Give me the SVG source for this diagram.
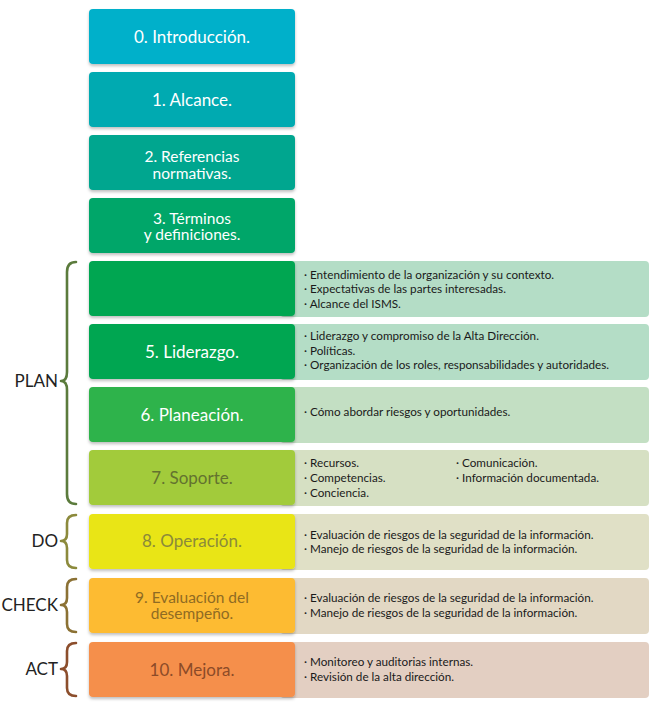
<svg xmlns="http://www.w3.org/2000/svg" width="650" height="712" viewBox="0 0 650 712">
<defs>
<filter id="sh" x="-5%" y="-10%" width="110%" height="130%">
<feDropShadow dx="0" dy="2" stdDeviation="1.5" flood-color="#000" flood-opacity="0.25"/>
</filter>
<style>
.t{font-family:"Lato","Open Sans",sans-serif;font-size:17px;text-anchor:middle;fill:#fff}
.t2{font-family:"Lato","Open Sans",sans-serif;font-size:15.5px;text-anchor:middle;fill:#fff}
.d{font-family:"Lato","Open Sans",sans-serif;font-size:11.7px;fill:#1a1a1a}
.l{font-family:"Lato","Open Sans",sans-serif;font-size:17px;fill:#222;text-anchor:end}
.b{fill:none;stroke-width:2.6;stroke-linecap:round;stroke-linejoin:round}
.lb{filter:url(#sh)}
</style>
</defs>
<rect width="650" height="712" fill="#fff"/>

<g id="braces">
<path class="b" stroke="#5b7b3c" d="M76,262 Q67,262 67,272 L67,372 Q67,381 61,381 Q67,381 67,390 L67,494 Q67,504 76,504"/>
<path class="b" stroke="#8c8a3c" d="M76,515 Q67,515 67,523 L67,534 Q67,541 61,541 Q67,541 67,548 L67,560 Q67,568 76,568"/>
<path class="b" stroke="#8b7134" d="M76,579 Q67,579 67,587 L67,598 Q67,605 61,605 Q67,605 67,612 L67,624 Q67,632 76,632"/>
<path class="b" stroke="#8c4e2c" d="M76,643 Q67,643 67,651 L67,662 Q67,669 61,669 Q67,669 67,676 L67,688 Q67,696 76,696"/>
</g>
<g id="phase-labels">
<text class="l" x="58" y="387">PLAN</text>
<text class="l" x="58" y="547">DO</text>
<text class="l" x="58" y="611">CHECK</text>
<text class="l" x="58" y="675">ACT</text>
</g>

<g id="n0"><rect class="lb" x="89" y="9" width="206" height="55" rx="4" fill="#00b0ca"/><text class="t" x="192" y="42.5">0. Introducción.</text></g>
<g id="n1"><rect class="lb" x="89" y="72" width="206" height="55" rx="4" fill="#00aab1"/><text class="t" x="192" y="105.5">1. Alcance.</text></g>
<g id="n2"><rect class="lb" x="89" y="135" width="206" height="55" rx="4" fill="#00a68f"/><text class="t2" x="192" y="162">2. Referencias</text><text class="t2" x="192" y="178.5">normativas.</text></g>
<g id="n3"><rect class="lb" x="89" y="198" width="206" height="55" rx="4" fill="#00a669"/><text class="t2" x="192" y="223.5">3. Términos</text><text class="t2" x="192" y="240">y definiciones.</text></g>

<g id="n4">
<rect x="280" y="261" width="369" height="56" rx="4" fill="#b4ddc6"/>
<rect class="lb" x="89" y="261" width="206" height="55" rx="4" fill="#00a651"/>
<text class="d" x="304" y="279">· Entendimiento de la organización y su contexto.</text>
<text class="d" x="304" y="293">· Expectativas de las partes interesadas.</text>
<text class="d" x="304" y="307.5">· Alcance del ISMS.</text>
</g>
<g id="n5">
<rect x="280" y="324" width="369" height="56" rx="4" fill="#b4ddc6"/>
<rect class="lb" x="89" y="324" width="206" height="55" rx="4" fill="#00a651"/>
<text class="t" x="192" y="357.5">5. Liderazgo.</text>
<text class="d" x="304" y="340">· Liderazgo y compromiso de la Alta Dirección.</text>
<text class="d" x="304" y="355">· Políticas.</text>
<text class="d" x="304" y="369">· Organización de los roles, responsabilidades y autoridades.</text>
</g>
<g id="n6">
<rect x="280" y="387" width="369" height="56" rx="4" fill="#c3dfc3"/>
<rect class="lb" x="89" y="387" width="206" height="55" rx="4" fill="#2eb34b"/>
<text class="t" x="192" y="420.5">6. Planeación.</text>
<text class="d" x="304" y="415.5">· Cómo abordar riesgos y oportunidades.</text>
</g>
<g id="n7">
<rect x="280" y="450" width="369" height="56" rx="4" fill="#d6e0c3"/>
<rect class="lb" x="89" y="450" width="206" height="55" rx="4" fill="#a2cb3b"/>
<text class="t" x="192" y="483.5" style="fill:#63722f">7. Soporte.</text>
<text class="d" x="304" y="467">· Recursos.</text>
<text class="d" x="304" y="482">· Competencias.</text>
<text class="d" x="304" y="497">· Conciencia.</text>
<text class="d" x="456" y="467">· Comunicación.</text>
<text class="d" x="456" y="482">· Información documentada.</text>
</g>
<g id="n8">
<rect x="280" y="514" width="369" height="56" rx="4" fill="#e0e0c6"/>
<rect class="lb" x="89" y="514" width="206" height="55" rx="4" fill="#e9e517"/>
<text class="t" x="192" y="547" style="fill:#8b8a3a">8. Operación.</text>
<text class="d" x="304" y="539">· Evaluación de riesgos de la seguridad de la información.</text>
<text class="d" x="304" y="552.5">· Manejo de riesgos de la seguridad de la información.</text>
</g>
<g id="n9">
<rect x="280" y="578" width="369" height="56" rx="4" fill="#e2d8c4"/>
<rect class="lb" x="89" y="578" width="206" height="55" rx="4" fill="#fdbb33"/>
<text class="t2" x="192" y="602.5" style="fill:#8f6b23">9. Evaluación del</text>
<text class="t2" x="192" y="619" style="fill:#8f6b23">desempeño.</text>
<text class="d" x="304" y="602">· Evaluación de riesgos de la seguridad de la información.</text>
<text class="d" x="304" y="616.5">· Manejo de riesgos de la seguridad de la información.</text>
</g>
<g id="n10">
<rect x="280" y="642" width="369" height="56" rx="4" fill="#e3cfc2"/>
<rect class="lb" x="89" y="642" width="206" height="55" rx="4" fill="#f58f4b"/>
<text class="t" x="192" y="675.5" style="fill:#8c4b28">10. Mejora.</text>
<text class="d" x="304" y="666">· Monitoreo y auditorias internas.</text>
<text class="d" x="304" y="681">· Revisión de la alta dirección.</text>
</g>
</svg>
